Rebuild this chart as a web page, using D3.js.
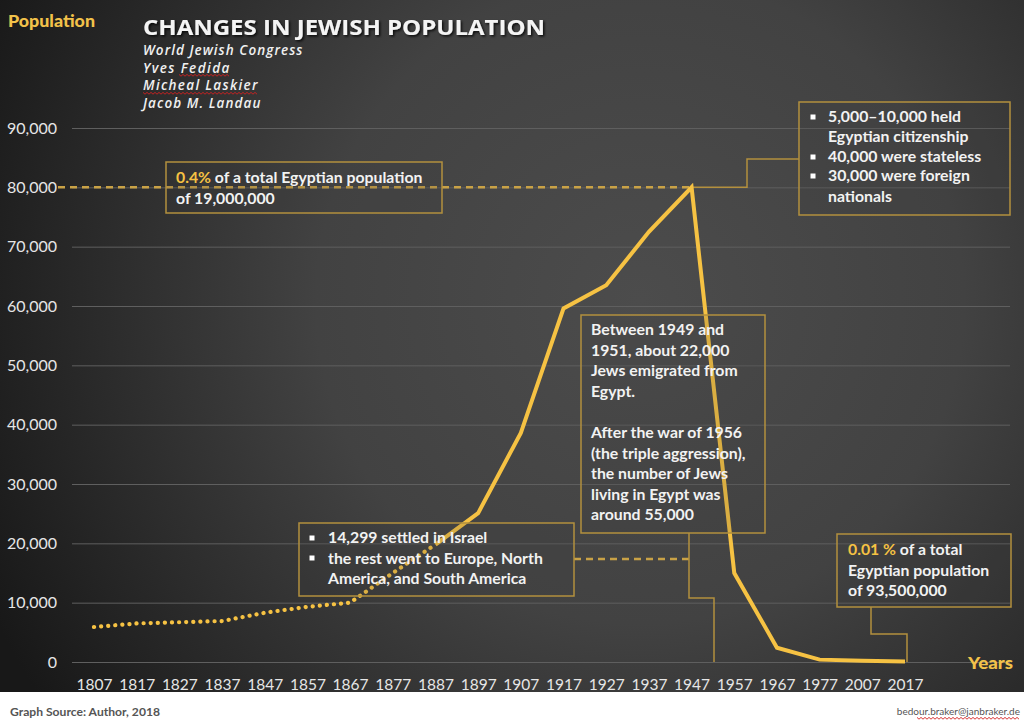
<!DOCTYPE html>
<html>
<head>
<meta charset="utf-8">
<script src="https://cdn.jsdelivr.net/npm/d3@7"></script>
<style>
  html, body { margin: 0; padding: 0; background: #fff; }
  svg { display: block; }
</style>
</head>
<body>
<svg id="chart" width="1024" height="722"></svg>
<script>
// ---- data ----
const categories = ["1807","1817","1827","1837","1847","1857","1867","1877","1887","1897",
                    "1907","1917","1927","1937","1947","1957","1967","1977","2007","2017"];
// estimated (dotted) part: 1807 .. 1887
const estimatedYears = ["1807","1817","1827","1837","1847","1857","1867","1877","1887"];
const estimatedPopulation = [5900, 6500, 6700, 6900, 8300, 9300, 10000, 15000, 19800];
// recorded (solid) part: 1887 .. 2017
const recordedYears = ["1887","1897","1907","1917","1927","1937","1947","1957","1967","1977","2007","2017"];
const recordedPopulation = [19800, 25100, 38600, 59600, 63500, 72500, 80000, 15000, 2400, 400, 200, 100];
const yTicks = [0, 10000, 20000, 30000, 40000, 50000, 60000, 70000, 80000, 90000];
const peakValue = 80000;
const peakYear = "1947";

const titleText = "CHANGES IN JEWISH POPULATION";
const sources = ["World Jewish Congress", "Yves Fedida", "Micheal Laskier", "Jacob M. Landau"];

// ---- setup ----
const svg = d3.select("#chart");
const W = 1024, H = 722, plotBottom = 692;
const GOLD = "#f6c243", BOX = "#b3903e", TXT = "#f2f2f2";
const F = "Lato, 'Open Sans', sans-serif";

const defs = svg.append("defs");
const rg = defs.append("radialGradient").attr("id", "bg")
  .attr("gradientUnits", "userSpaceOnUse")
  .attr("cx", 640).attr("cy", 300).attr("r", 720);
rg.append("stop").attr("offset", "0").attr("stop-color", "#4c4c4c");
rg.append("stop").attr("offset", "0.45").attr("stop-color", "#424242");
rg.append("stop").attr("offset", "1").attr("stop-color", "#181818");
const sh = defs.append("filter").attr("id", "shadow").attr("x", "-5%").attr("y", "-20%").attr("width", "110%").attr("height", "150%");
sh.append("feDropShadow").attr("dx", 1.5).attr("dy", 1.5).attr("stdDeviation", 1).attr("flood-color", "#000").attr("flood-opacity", 0.8);

svg.append("rect").attr("width", W).attr("height", plotBottom).attr("fill", "url(#bg)");
svg.append("rect").attr("y", plotBottom).attr("width", W).attr("height", H - plotBottom).attr("fill", "#ffffff");

const x = d3.scalePoint().domain(categories).range([94, 905]);
const y = d3.scaleLinear().domain([0, 90000]).range([662, 128]);
const gridLeft = 72, gridRight = 1010;

// grid
svg.append("g").attr("transform", `translate(${gridLeft},0)`)
  .call(d3.axisLeft(y).tickValues(yTicks).tickSize(-(gridRight - gridLeft)).tickFormat(""))
  .call(g => g.select(".domain").remove())
  .call(g => g.selectAll("line").attr("stroke", "#5f5f5f").attr("stroke-width", 1));

// y labels
svg.append("g").attr("transform", `translate(${gridLeft},0)`)
  .call(d3.axisLeft(y).tickValues(yTicks).tickSize(0).tickPadding(15).tickFormat(d3.format(",")))
  .call(g => g.select(".domain").remove())
  .call(g => g.selectAll("text").attr("fill", "#e6e6e6").attr("font-family", F).attr("font-size", 16));

// x labels
svg.append("g").attr("transform", `translate(0,${y(0)})`)
  .call(d3.axisBottom(x).tickSize(0).tickPadding(17))
  .call(g => g.select(".domain").remove())
  .call(g => g.selectAll("text").attr("fill", "#e6e6e6").attr("font-family", F).attr("font-size", 15.5));

// ---- annotation helpers ----
function box(x0, y0, x1, y1) {
  svg.append("rect").attr("x", x0).attr("y", y0).attr("width", x1 - x0).attr("height", y1 - y0)
    .attr("fill", "rgba(60,60,60,0.15)").attr("stroke", BOX).attr("stroke-width", 1.5);
}
function connector(points, dashed) {
  svg.append("path").attr("d", d3.line()(points)).attr("fill", "none")
    .attr("stroke", dashed ? "#c9a246" : BOX).attr("stroke-width", dashed ? 2.5 : 1.5)
    .attr("stroke-dasharray", dashed ? "7 5" : null);
}
function lines(xPos, baselines, parts, bullets) {
  parts.forEach((p, i) => {
    const t = svg.append("text").attr("x", xPos).attr("y", baselines[i])
      .attr("font-family", F).attr("font-weight", 700).attr("font-size", 15.8).attr("fill", TXT);
    (Array.isArray(p) ? p : [[p, TXT]]).forEach(([s, c]) => t.append("tspan").attr("fill", c).text(s));
  });
  (bullets || []).forEach(([bx, by]) => {
    svg.append("rect").attr("x", bx - 2.5).attr("y", by - 2.5).attr("width", 5).attr("height", 5).attr("fill", "#fff");
  });
}

// 80,000 dashed reference and connector to top-right box
const px = x(peakYear), py = y(peakValue);
connector([[58, py], [px, py]], true);
connector([[px, py], [747, py], [747, 159], [799, 159]], false);

// bottom-left box dashed link and middle box connector to axis
connector([[574, 559], [689, 559]], true);
connector([[689, 533], [689, 598], [714, 598], [714, y(0)]], false);
// bottom-right connector
connector([[871, 607], [871, 634], [907, 634], [907, y(0)]], false);

// ---- data lines ----
const lineGen = d3.line().x(d => x(d[0])).y(d => y(d[1]));
svg.append("path").datum(estimatedYears.map((c, i) => [c, estimatedPopulation[i]]))
  .attr("d", lineGen).attr("fill", "none").attr("stroke", GOLD).attr("stroke-width", 4.2)
  .attr("stroke-linecap", "round").attr("stroke-dasharray", "0.1 7");
svg.append("path").datum(recordedYears.map((c, i) => [c, recordedPopulation[i]]))
  .attr("d", lineGen).attr("fill", "none").attr("stroke", GOLD).attr("stroke-width", 4)
  .attr("stroke-linejoin", "miter");

// ---- boxes ----
box(166, 162, 442, 213);
lines(176, [183, 204], [[["0.4%", GOLD], [" of a total Egyptian population", TXT]], "of 19,000,000"]);

box(799, 102, 1010, 215);
lines(828, [122, 142, 162, 181, 202],
  ["5,000\u201310,000 held", "Egyptian citizenship", "40,000 were stateless", "30,000 were foreign", "nationals"],
  [[813, 117], [813, 157], [813, 176]]);

box(581, 315, 765, 533);
lines(591, [335, 356, 376, 397, 417, 438, 459, 479, 500, 520],
  ["Between 1949 and", "1951, about 22,000", "Jews emigrated from", "Egypt.", "",
   "After the war of 1956", "(the triple aggression),", "the number of Jews", "living in Egypt was", "around 55,000"]);

box(299, 523, 574, 596);
lines(328, [543, 564, 584],
  ["14,299 settled in Israel", "the rest went to Europe, North", "America, and South America"],
  [[312, 538], [312, 558]]);

box(837, 534, 1011, 607);
lines(848, [555, 576, 596], [[["0.01 %", GOLD], [" of a total", TXT]], "Egyptian population", "of 93,500,000"]);

// ---- titles ----
svg.append("text").attr("x", 8).attr("y", 27).attr("fill", "#f2c24a")
  .attr("font-family", F).attr("font-weight", 900).attr("font-size", 17)
  .attr("textLength", 87).attr("lengthAdjust", "spacingAndGlyphs").text("Population");
svg.append("text").attr("x", 968).attr("y", 669).attr("fill", "#f2c24a")
  .attr("font-family", F).attr("font-weight", 900).attr("font-size", 17)
  .attr("textLength", 45).attr("lengthAdjust", "spacingAndGlyphs").text("Years");

svg.append("text").attr("x", 143).attr("y", 35).attr("fill", "#f4f4f4")
  .attr("font-family", "'Open Sans', sans-serif").attr("font-weight", 700).attr("font-size", 22)
  .attr("textLength", 402).attr("lengthAdjust", "spacingAndGlyphs")
  .attr("filter", "url(#shadow)").text(titleText);

const subBase = [55, 72.5, 90, 108];
const subW = [160, 87, 115, 118];
const subNodes = sources.map((s, i) =>
  svg.append("text").attr("x", 143).attr("y", subBase[i]).attr("fill", "#f0f0f0")
    .attr("font-family", "'Open Sans', sans-serif").attr("font-style", "italic").attr("font-weight", 600).attr("font-size", 13.5)
    .attr("textLength", subW[i]).attr("lengthAdjust", "spacing")
    .style("letter-spacing", "0.6px").text(s));

function wavy(x0, x1, yy) {
  const pts = [];
  for (let xx = x0, k = 0; xx <= x1; xx += 2, k++) pts.push([xx, yy + (k % 2 ? 1.2 : -0.6)]);
  svg.append("path").attr("d", d3.line()(pts)).attr("fill", "none").attr("stroke", "#d42020").attr("stroke-width", 0.9);
}
wavy(179, 229, 75);
wavy(143, 258, 93);

// ---- footer ----
svg.append("text").attr("x", 10).attr("y", 716).attr("fill", "#555")
  .attr("font-family", F).attr("font-weight", 700).attr("font-size", 11.5)
  .attr("textLength", 150).attr("lengthAdjust", "spacingAndGlyphs").text("Graph Source: Author, 2018");
svg.append("text").attr("x", 1020).attr("y", 715).attr("text-anchor", "end").attr("fill", "#555")
  .attr("font-family", F).attr("font-size", 10).text("bedour.braker@janbraker.de");
wavy(917, 1020, 718);
</script>
</body>
</html>
